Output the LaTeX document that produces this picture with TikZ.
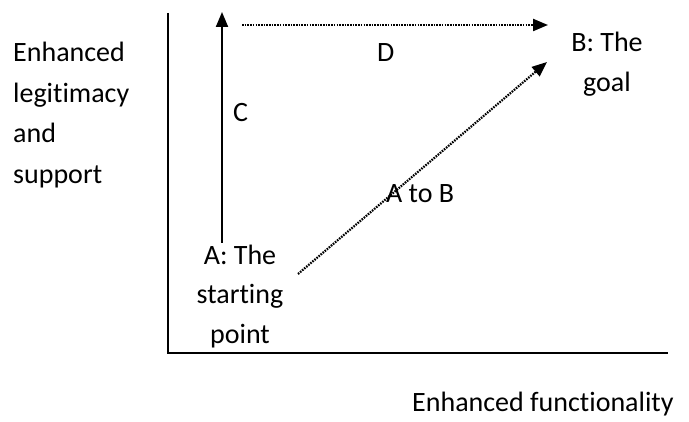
\documentclass[tikz,border=0pt]{standalone}
\usepackage{fontspec}
\setmainfont{Carlito}[Ligatures={NoCommon,NoDiscretionary,NoRare}]
\usetikzlibrary{arrows.meta}
\begin{document}
\begin{tikzpicture}[x=1pt,y=-1pt,
  lbl/.style={inner sep=0pt,font=\fontsize{28}{34}\selectfont},
  axisline/.style={line width=2pt},
  solidarrow/.style={line width=2pt,-{Triangle[length=15pt,width=12pt]}},
  dotarrow/.style={line width=2.2pt,dash pattern=on 1.6pt off 1.1pt,-{Triangle[length=15pt,width=12pt]}}]
\useasboundingbox (0,0) rectangle (689,422);
% axes
\coordinate (ytop) at (168,13);
\coordinate (origin) at (168,353);
\coordinate (xend) at (668,353);
\draw[axisline] (ytop) -- (origin) -- (xend);
% arrows
\coordinate (cstart) at (222,243);
\coordinate (cend) at (222,12);
\draw[solidarrow] (cstart) -- (cend);
\coordinate (dstart) at (242,25);
\coordinate (dend) at (548,25);
\draw[dotarrow] (dstart) -- (dend);
\coordinate (abstart) at (298,274);
\coordinate (abend) at (547,62);
\draw[dotarrow] (abstart) -- (abend);
% left labels
\node[lbl,anchor=base west] (l1) at (13,62) {Enhanced};
\node[lbl,anchor=base west] (l2) at (13,102.5) {legitimacy};
\node[lbl,anchor=base west] (l3) at (13,143) {and};
\node[lbl,anchor=base west] (l4) at (13,183.5) {support};
% B
\node[lbl,anchor=base] (b1) at (607,52) {B: The};
\node[lbl,anchor=base] (b2) at (607,92) {goal};
% D, C
\node[lbl,anchor=base west] (d) at (377,62) {D};
\node[lbl,anchor=base west] (c) at (233,122) {C};
% A to B
\node[lbl,anchor=base west] (atob) at (386,203) {A to B};
% A block
\node[lbl,anchor=base] (a1) at (240,265) {A: The};
\node[lbl,anchor=base] (a2) at (240,304) {starting};
\node[lbl,anchor=base] (a3) at (240,344) {point};
% x label
\node[lbl,anchor=base west] (xl) at (412,412) {Enhanced functionality};
\end{tikzpicture}
\end{document}
